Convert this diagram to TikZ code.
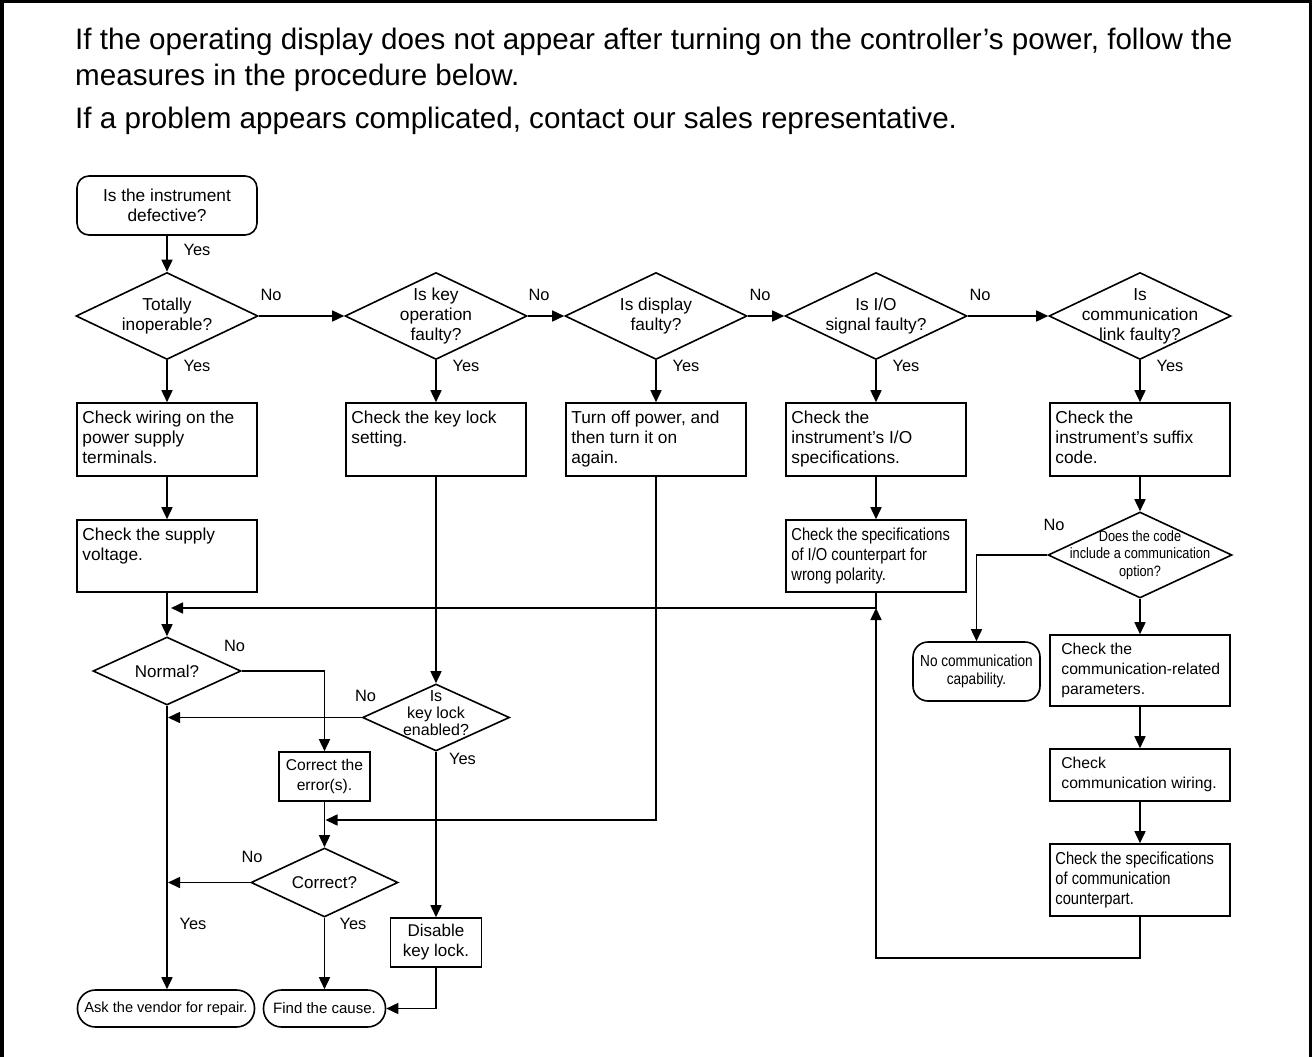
\documentclass[tikz,border=0pt]{standalone}
\usepackage{fontspec}
\setmainfont{Liberation Sans}
\newfontfamily\narrowfont[FakeStretch=0.85]{Liberation Sans}
\usetikzlibrary{arrows.meta,shapes.geometric}
\newcommand{\fsz}[2]{\fontsize{#1}{#2}\selectfont}
\tikzset{%
	startstop/.style = {draw, rectangle, rounded corners=12pt, line width=1.6pt, align=center, inner sep=0pt, font=\fsz{17.3}{20}},
	process/.style   = {draw, rectangle, line width=1.6pt, minimum width=180pt, inner sep=0pt, align=center, font=\fsz{17.3}{20}},
	boxtext/.style   = {anchor=north west, align=left, inner xsep=6pt, inner ysep=8.5pt, font=\fsz{17.3}{20}, execute at begin node=\strut},
	decision/.style  = {draw, diamond, line width=1.6pt, inner sep=0pt, minimum width=182pt, minimum height=87pt},
	dtext/.style     = {align=center, inner sep=0pt, font=\fsz{17.3}{20}},
	yn/.style        = {inner sep=0pt, font=\fsz{16.4}{20}},
	arrow/.style     = {line width=1.6pt, -{Triangle[length=12pt,width=11pt]}},
}

\begin{document}
\begin{tikzpicture}[x=1pt,y=-1pt]
	\useasboundingbox (0,0) rectangle (1312,1057);
	\draw[line width=3.5pt] (1.75,1057) -- (1.75,1.75) -- (1310.25,1.75) -- (1310.25,1057);
	% intro text
	\node[anchor=base west, inner sep=0pt, font=\fsz{29.6}{35}] (intro1) at (75,50) {If the operating display does not appear after turning on the controller’s power, follow the};
	\node[anchor=base west, inner sep=0pt, font=\fsz{29.6}{35}] (intro2) at (75,85) {measures in the procedure below.};
	\node[anchor=base west, inner sep=0pt, font=\fsz{29.6}{35}] (hint) at (75,128) {If a problem appears complicated, contact our sales representative.};
	% top row of questions
	\node[startstop, minimum width=180pt, minimum height=59pt] (start) at (167,205.5) {Is the instrument\\defective?};
	\node[decision, label={[dtext]center:Totally\\inoperable?}] (tot) at (167,316) {};
	\node[decision, label={[dtext]center:Is key\\operation\\faulty?}] (keyq) at (436,316) {};
	\node[decision, label={[dtext]center:Is display\\faulty?}] (dispq) at (656,316) {};
	\node[decision, label={[dtext]center:Is I/O\\signal faulty?}] (ioq) at (876,316) {};
	\node[decision, label={[dtext]center:Is\\communication\\link faulty?}] (commq) at (1140,316) {};
	% first checks
	\node[process, minimum height=73pt, label={[boxtext]north west:Check wiring on the\\power supply\\terminals.}] (wire) at (167,439.5) {};
	\node[process, minimum height=73pt, label={[boxtext]north west:Check the key lock\\setting.}] (keyset) at (436,439.5) {};
	\node[process, minimum height=73pt, label={[boxtext]north west:{Turn off power, and\\then turn it on\\again.}}] (reset) at (656,439.5) {};
	\node[process, minimum height=73pt, label={[boxtext]north west:Check the\\instrument’s I/O\\specifications.}] (iospec) at (876,439.5) {};
	\node[process, minimum height=73pt, label={[boxtext]north west:Check the\\instrument’s suffix\\code.}] (suffix) at (1140,439.5) {};
	\node[process, minimum height=72pt, label={[boxtext]north west:Check the supply\\voltage.}] (supply) at (167,556) {};
	\node[process, minimum height=72pt, label={[boxtext, font=\narrowfont\fsz{17.3}{20}]north west:Check the specifications\\of I/O counterpart for\\wrong polarity.}] (polarity) at (876,556) {};
	% communication branch
	\node[decision, minimum width=184pt, minimum height=86pt, label={[dtext, font=\narrowfont\fsz{15}{17.5}]center:Does the code\\include a communication\\option?}] (optq) at (1140,555) {};
	\node[startstop, rounded corners=15pt, minimum width=127pt, minimum height=59pt, font=\narrowfont\fsz{16}{18}] (nocomm) at (976.5,671.5) {No communication\\capability.};
	\node[process, minimum height=71pt, label={[boxtext, inner xsep=12pt, font=\fsz{15.7}{20}]north west:Check the\\communication-related\\parameters.}] (params) at (1140,670.5) {};
	\node[process, minimum height=52pt, label={[boxtext, inner xsep=12pt, font=\fsz{15.7}{20}]north west:Check\\communication wiring.}] (wiring) at (1140,775) {};
	\node[process, minimum height=72pt, label={[boxtext, font=\narrowfont\fsz{17.3}{20}]north west:Check the specifications\\of communication\\counterpart.}] (commspec) at (1140,880) {};
	% lower left part
	\node[decision, minimum width=148pt, minimum height=68pt, label={[dtext, font=\fsz{17}{20}]center:Normal?}] (normal) at (167,671) {};
	\node[decision, minimum width=147pt, minimum height=67pt, label={[dtext, yshift=4pt, font=\fsz{16}{17}]center:Is\\key lock\\enabled?}] (lockq) at (436,717.5) {};
	\node[process, minimum width=91pt, minimum height=49pt, font=\fsz{15.6}{20}] (fix) at (324.5,776.5) {Correct the\\error(s).};
	\node[decision, minimum width=147pt, minimum height=69pt, label={[dtext, font=\fsz{17}{20}]center:Correct?}] (correctq) at (324.5,882.5) {};
	\node[process, minimum width=91pt, minimum height=49pt, font=\fsz{17}{20}] (unlock) at (436,942.5) {Disable\\key lock.};
	\node[startstop, rounded corners=18pt, minimum width=177pt, minimum height=37pt, font=\fsz{14.6}{18}] (vendor) at (166,1008.5) {Ask the vendor for repair.};
	\node[startstop, rounded corners=18pt, minimum width=122pt, minimum height=37pt, font=\fsz{15}{18}] (cause) at (324.5,1008.5) {Find the cause.};
	\coordinate (fb) at (876,608);
	\coordinate (join) at (324.5,820);
	% yes / no
	\node[yn] (yes0) at (197,250) {Yes};
	\node[yn] (yes1) at (197,366) {Yes};
	\node[yn] (yes2) at (466,366) {Yes};
	\node[yn] (yes3) at (686,366) {Yes};
	\node[yn] (yes4) at (906,366) {Yes};
	\node[yn] (yes5) at (1170,366) {Yes};
	\node[yn] (no1) at (271,295) {No};
	\node[yn] (no2) at (539,295) {No};
	\node[yn] (no3) at (760,295) {No};
	\node[yn] (no4) at (980,295) {No};
	\node[yn] (no5) at (1054,525) {No};
	\node[yn] (no6) at (234.5,646) {No};
	\node[yn] (no7) at (365.5,696) {No};
	\node[yn] (yes7) at (462.5,759) {Yes};
	\node[yn] (no8) at (252,857) {No};
	\node[yn] (yes6) at (193,924) {Yes};
	\node[yn] (yes8) at (353,924) {Yes};
	% connectors
	\draw[arrow] (start) -- (tot);
	\draw[arrow] (tot) -- (keyq);
	\draw[arrow] (keyq) -- (dispq);
	\draw[arrow] (dispq) -- (ioq);
	\draw[arrow] (ioq) -- (commq);
	\draw[arrow] (tot) -- (wire);
	\draw[arrow] (keyq) -- (keyset);
	\draw[arrow] (dispq) -- (reset);
	\draw[arrow] (ioq) -- (iospec);
	\draw[arrow] (commq) -- (suffix);
	\draw[arrow] (wire) -- (supply);
	\draw[arrow] (supply) -- (normal);
	\draw[arrow] (iospec) -- (polarity);
	\draw[arrow] (suffix) -- (optq);
	\draw[arrow] (optq.west) -| (nocomm.north);
	\draw[arrow] (optq) -- (params);
	\draw[arrow] (params) -- (wiring);
	\draw[arrow] (wiring) -- (commspec);
	\draw[arrow] (commspec.south) -- ++(0,41) -| (fb);
	\draw[arrow, shorten >=4pt] (polarity.south) -- (fb) -- (supply.south |- fb);
	\draw[arrow] (normal.east) -| (fix.north);
	\draw[arrow] (keyset) -- (lockq);
	\draw[arrow, shorten >=1pt] (lockq.west) -- (normal.south |- lockq.west);
	\draw[arrow] (lockq) -- (unlock);
	\draw[arrow, shorten >=1pt] (reset.south) |- (join);
	\draw[arrow] (fix) -- (correctq);
	\draw[arrow, shorten >=1pt] (correctq.west) -- (normal.south |- correctq.west);
	\draw[arrow] (normal.south) -- (normal.south |- vendor.north);
	\draw[arrow] (correctq) -- (cause);
	\draw[arrow] (unlock.south) |- (cause.east);
\end{tikzpicture}
\end{document}
